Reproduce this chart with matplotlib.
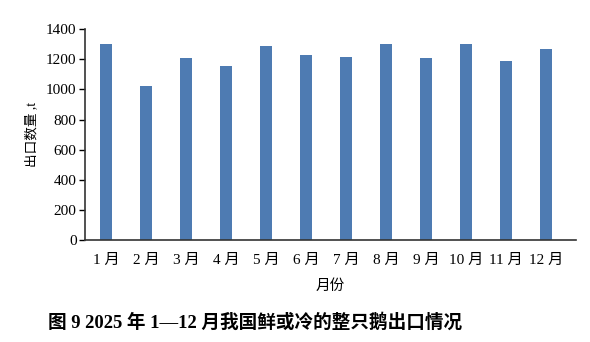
import matplotlib
matplotlib.use('Agg')
import matplotlib.pyplot as plt
import numpy as np

plt.rcParams['font.family'] = ['Liberation Serif', 'Noto Sans CJK SC']

months = ['1 月', '2 月', '3 月', '4 月', '5 月', '6 月',
          '7 月', '8 月', '9 月', '10 月', '11 月', '12 月']
export_t = [1302, 1022, 1206, 1152, 1287, 1228,
            1212, 1298, 1206, 1298, 1190, 1265]
y_ticks = [0, 200, 400, 600, 800, 1000, 1200, 1400]

fig = plt.figure(figsize=(5.9, 3.42), dpi=100)
ax = fig.add_axes([0.144, 0.298, 0.832, 0.617])

x = np.arange(len(months))
ax.bar(x, export_t, width=0.3, color='#4E7BB2')

ax.set_xlim(-0.53, 11.75)
ax.set_ylim(0, 1400)
ax.set_yticks(y_ticks)
ax.set_xticks(x)
ax.set_xticklabels(months, fontsize=11)
ax.tick_params(axis='y', labelsize=11, length=4, width=1, pad=2)
ax.tick_params(axis='x', length=0, pad=10)
for side in ['top', 'right']:
    ax.spines[side].set_visible(False)
for side in ['left', 'bottom']:
    ax.spines[side].set_linewidth(1.2)
    ax.spines[side].set_color('#333333')

ax.set_xlabel('月份', fontsize=10.5, labelpad=9)
ax.set_ylabel('出口数量 ,t', fontsize=9.8, labelpad=6)

fig.text(0.432, 0.058, '图 9 2025 年 1—12 月我国鲜或冷的整只鹅出口情况',
         ha='center', va='center', fontsize=13.4, fontweight='bold')

fig.savefig('out.png', dpi=100)
